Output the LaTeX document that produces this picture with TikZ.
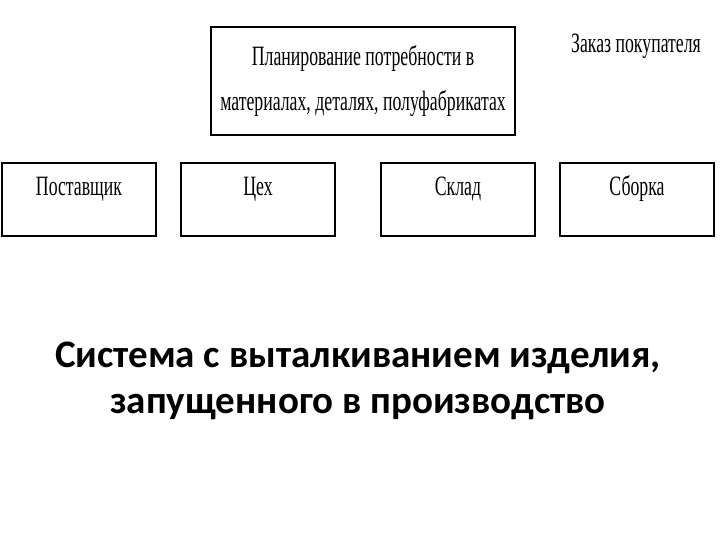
\documentclass[tikz,border=0pt]{standalone}
\usepackage{fontspec}
\setmainfont{Liberation Serif}
\newfontfamily\narrowserif[FakeStretch=0.634]{Liberation Serif}
\newfontfamily\titlefont{Carlito}
\usetikzlibrary{positioning}
\tikzset{
  blk/.style={draw,line width=2pt,inner sep=0pt,font=\narrowserif\fontsize{28}{28}\selectfont},
}
\begin{document}
\begin{tikzpicture}[x=1pt,y=-1pt]
\useasboundingbox[fill=white] (0,0) rectangle (720,540);

\node (plan) at (363,81) [blk,minimum width=304pt,minimum height=108pt,align=center,
  font=\narrowserif\fontsize{28}{45}\selectfont] {Планирование потребности в\\материалах, деталях, полуфабрикатах};
\node (order) at (636,53) [anchor=base,font=\narrowserif\fontsize{28}{28}\selectfont] {Заказ покупателя};

\foreach \x/\t [count=\i] in {79/Поставщик,258/Цех,458/Склад,637/Сборка} {
\node (b\i) at (\x,196) [blk,anchor=base,minimum width=154pt,text height=33pt,text depth=40pt] {\t};
}

% anchor=base is the last line here
\node (title) at (358,413) [anchor=base,align=center,
  font=\titlefont\bfseries\fontsize{39}{46}\selectfont] {Система с выталкиванием изделия,\\запущенного в производство};
\end{tikzpicture}
\end{document}
